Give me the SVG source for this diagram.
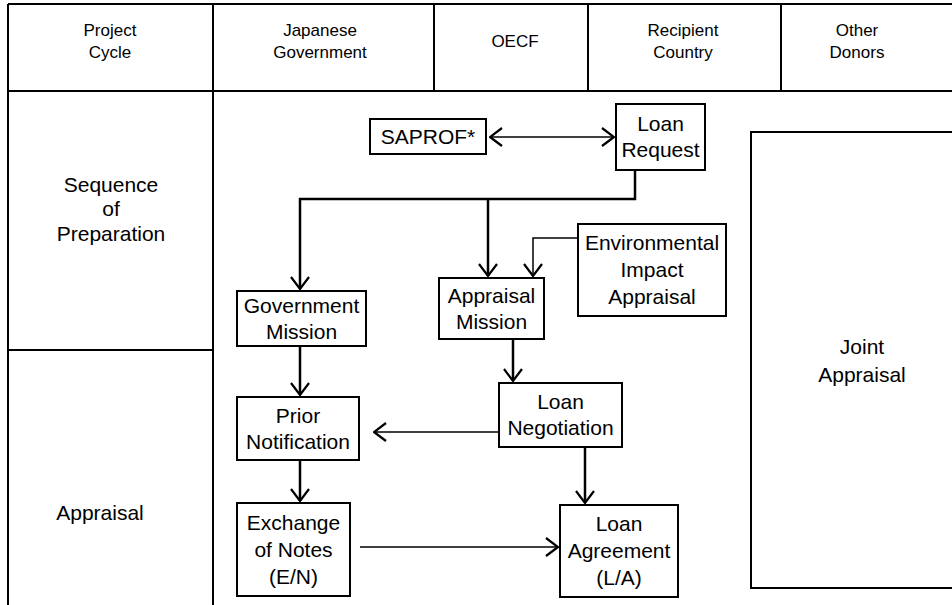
<svg xmlns="http://www.w3.org/2000/svg" width="952" height="605" viewBox="0 0 952 605">
<style>
  text { font-family: "Liberation Sans", Arial, sans-serif; fill: #000; text-anchor: middle; }
  .hd { font-size: 17px; }
  .lb { font-size: 21px; }
  .nd { font-size: 21px; }
  .grid { stroke: #000; stroke-width: 2; fill: none; }
  .box { stroke: #000; stroke-width: 2; fill: #fff; }
  .c { stroke: #000; stroke-width: 2.5; fill: none; }
  .t { stroke: #000; stroke-width: 1.5; fill: none; }
</style>
<defs>
  <marker id="ah" viewBox="0 0 14 20" refX="13" refY="10" markerWidth="14" markerHeight="20" markerUnits="userSpaceOnUse" orient="auto-start-reverse">
    <path d="M1,1 L13,10 L1,19" fill="none" stroke="#000" stroke-width="2.2"/>
  </marker>
</defs>
<rect width="952" height="605" fill="#fff"/>
<g id="table">
  <line class="grid" x1="8" y1="4" x2="952" y2="4"/>
  <line class="grid" x1="8" y1="91" x2="952" y2="91"/>
  <line class="grid" x1="8" y1="4" x2="8" y2="605"/>
  <line class="grid" x1="213" y1="4" x2="213" y2="605"/>
  <line class="grid" x1="434" y1="4" x2="434" y2="91"/>
  <line class="grid" x1="588" y1="4" x2="588" y2="91"/>
  <line class="grid" x1="781" y1="4" x2="781" y2="91"/>
  <line class="grid" x1="8" y1="350" x2="213" y2="350"/>
  <text class="hd" x="110" y="36">Project</text>
  <text class="hd" x="110" y="58">Cycle</text>
  <text class="hd" x="320" y="36">Japanese</text>
  <text class="hd" x="320" y="58">Government</text>
  <text class="hd" x="515" y="47">OECF</text>
  <text class="hd" x="683" y="36">Recipient</text>
  <text class="hd" x="683" y="58">Country</text>
  <text class="hd" x="857" y="36">Other</text>
  <text class="hd" x="857" y="58">Donors</text>
  <text class="lb" x="111" y="192">Sequence</text>
  <text class="lb" x="111" y="216">of</text>
  <text class="lb" x="111" y="241">Preparation</text>
  <text class="lb" x="100" y="520">Appraisal</text>
</g>
<g id="connectors">
  <line class="t" x1="490" y1="137" x2="614" y2="137" marker-start="url(#ah)" marker-end="url(#ah)"/>
  <polyline class="c" points="635,170 635,199 300,199 300,289" marker-end="url(#ah)"/>
  <line class="c" x1="488" y1="199" x2="488" y2="276" marker-end="url(#ah)"/>
  <polyline class="t" points="578,238 533,238 533,276" marker-end="url(#ah)"/>
  <line class="c" x1="300" y1="346" x2="300" y2="395" marker-end="url(#ah)"/>
  <line class="c" x1="513" y1="339" x2="513" y2="381" marker-end="url(#ah)"/>
  <line class="t" x1="499" y1="432" x2="374" y2="432" marker-end="url(#ah)"/>
  <line class="c" x1="300" y1="460" x2="300" y2="501" marker-end="url(#ah)"/>
  <line class="c" x1="585" y1="447" x2="585" y2="503" marker-end="url(#ah)"/>
  <line class="t" x1="360" y1="547" x2="558" y2="547" marker-end="url(#ah)"/>
</g>
<g id="saprof">
  <rect class="box" x="370" y="119" width="116" height="35"/>
  <text class="nd" x="428" y="144">SAPROF*</text>
</g>
<g id="loan-request">
  <rect class="box" x="616" y="104" width="89" height="66"/>
  <text class="nd" x="660.5" y="131">Loan</text>
  <text class="nd" x="660.5" y="157">Request</text>
</g>
<g id="government-mission">
  <rect class="box" x="237" y="291" width="129" height="55"/>
  <text class="nd" x="301.5" y="313">Government</text>
  <text class="nd" x="301.5" y="339">Mission</text>
</g>
<g id="appraisal-mission">
  <rect class="box" x="439" y="278" width="105" height="61"/>
  <text class="nd" x="491.5" y="303">Appraisal</text>
  <text class="nd" x="491.5" y="329">Mission</text>
</g>
<g id="environmental-impact-appraisal">
  <rect class="box" x="578" y="224" width="148" height="92"/>
  <text class="nd" x="652" y="250">Environmental</text>
  <text class="nd" x="652" y="277">Impact</text>
  <text class="nd" x="652" y="304">Appraisal</text>
</g>
<g id="prior-notification">
  <rect class="box" x="237" y="397" width="122" height="63"/>
  <text class="nd" x="298" y="423">Prior</text>
  <text class="nd" x="298" y="449">Notification</text>
</g>
<g id="loan-negotiation">
  <rect class="box" x="499" y="383" width="123" height="64"/>
  <text class="nd" x="560.5" y="409">Loan</text>
  <text class="nd" x="560.5" y="435">Negotiation</text>
</g>
<g id="exchange-of-notes">
  <rect class="box" x="237" y="503" width="113" height="93"/>
  <text class="nd" x="293.5" y="530">Exchange</text>
  <text class="nd" x="293.5" y="557">of Notes</text>
  <text class="nd" x="293.5" y="584">(E/N)</text>
</g>
<g id="loan-agreement">
  <rect class="box" x="560" y="505" width="118" height="92"/>
  <text class="nd" x="619" y="531">Loan</text>
  <text class="nd" x="619" y="558">Agreement</text>
  <text class="nd" x="619" y="585">(L/A)</text>
</g>
<g id="joint-appraisal">
  <rect class="box" x="751" y="132" width="210" height="456"/>
  <text class="lb" x="862" y="354">Joint</text>
  <text class="lb" x="862" y="382">Appraisal</text>
</g>
</svg>
